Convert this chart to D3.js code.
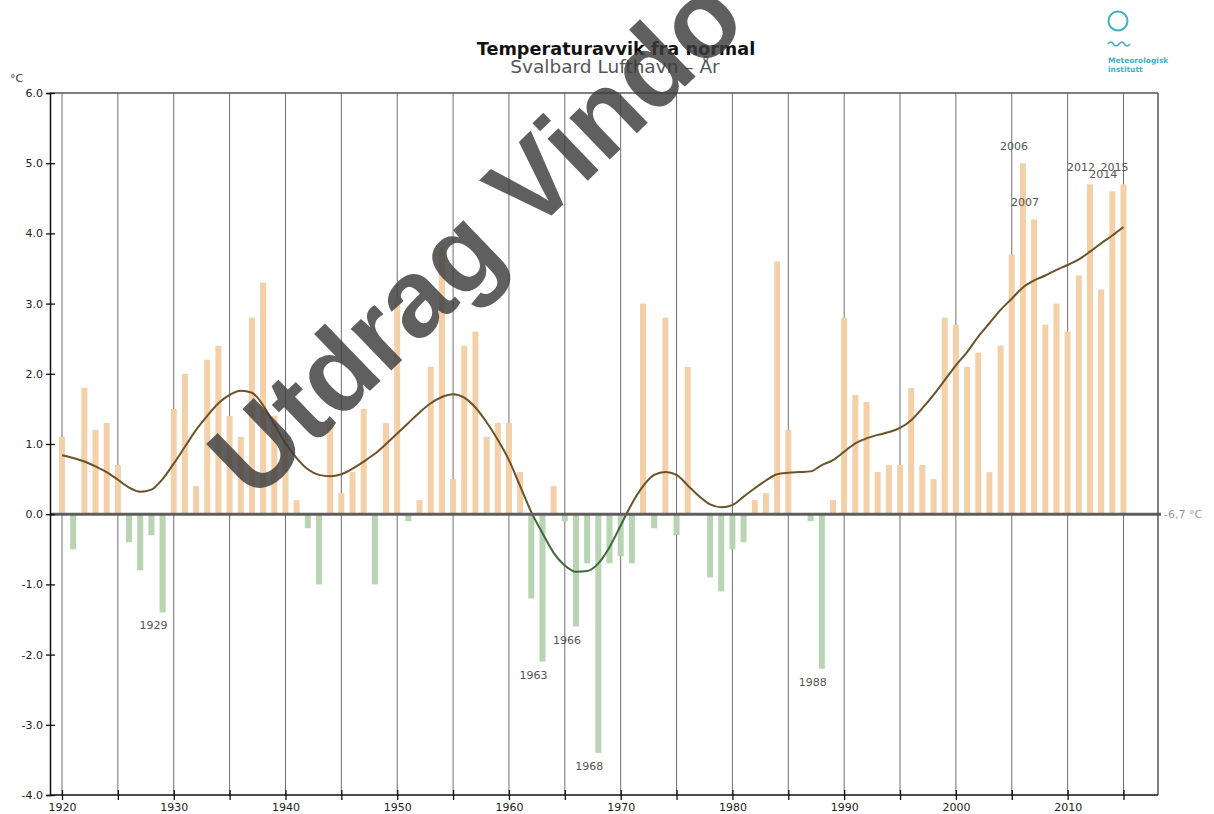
<!DOCTYPE html>
<html><head><meta charset="utf-8">
<script src="https://cdn.jsdelivr.net/npm/d3@7"></script>
<style>
html,body{margin:0;padding:0;background:#fff;}
svg{display:block;}
</style></head>
<body>
<svg id="chart" width="1214" height="814"></svg>
<script>
// ---- data ----
const years = d3.range(1920, 2016);
const anomalies = [
  1.1, -0.5, 1.8, 1.2, 1.3, 0.7, -0.4, -0.8, -0.3, -1.4,   // 1920-1929
  1.5, 2.0, 0.4, 2.2, 2.4, 1.4, 1.1, 2.8, 3.3, 1.4,        // 1930-1939
  1.1, 0.2, -0.2, -1.0, 1.3, 0.3, 0.6, 1.5, -1.0, 1.3,     // 1940-1949
  3.1, -0.1, 0.2, 2.1, 3.8, 0.5, 2.4, 2.6, 1.1, 1.3,       // 1950-1959
  1.3, 0.6, -1.2, -2.1, 0.4, -0.1, -1.6, -0.7, -3.4, -0.7, // 1960-1969
  -0.6, -0.7, 3.0, -0.2, 2.8, -0.3, 2.1, 0.0, -0.9, -1.1,  // 1970-1979
  -0.5, -0.4, 0.2, 0.3, 3.6, 1.2, 0.0, -0.1, -2.2, 0.2,    // 1980-1989
  2.8, 1.7, 1.6, 0.6, 0.7, 0.7, 1.8, 0.7, 0.5, 2.8,        // 1990-1999
  2.7, 2.1, 2.3, 0.6, 2.4, 3.7, 5.0, 4.2, 2.7, 3.0,        // 2000-2009
  2.6, 3.4, 4.7, 3.2, 4.6, 4.7                             // 2010-2015
];
const smoothed = [
  0.84, 0.80, 0.75, 0.68, 0.60, 0.49, 0.38, 0.32, 0.35, 0.50,
  0.72, 0.96, 1.20, 1.40, 1.58, 1.70, 1.76, 1.73, 1.55, 1.28,
  1.01, 0.80, 0.64, 0.56, 0.54, 0.57, 0.65, 0.75, 0.86, 1.00,
  1.15, 1.30, 1.45, 1.58, 1.67, 1.71, 1.66, 1.52, 1.31, 1.06,
  0.77, 0.40, 0.03, -0.27, -0.55, -0.73, -0.82, -0.81, -0.70, -0.47,
  -0.16, 0.15, 0.40, 0.56, 0.60, 0.56, 0.41, 0.26, 0.14, 0.10,
  0.13, 0.25, 0.37, 0.48, 0.57, 0.59, 0.60, 0.61, 0.70, 0.77,
  0.89, 1.01, 1.08, 1.13, 1.17, 1.23, 1.34, 1.51, 1.70, 1.91,
  2.12, 2.31, 2.53, 2.72, 2.91, 3.07, 3.23, 3.33, 3.40, 3.48,
  3.55, 3.63, 3.74, 3.86, 3.97, 4.09
];
const labelledYears = [1929, 1963, 1966, 1968, 1988, 2006, 2007, 2012, 2014, 2015];
const yTicks = [-4, -3, -2, -1, 0, 1, 2, 3, 4, 5, 6];
const gridYears = d3.range(1920, 2016, 5);
const titleText = "Temperaturavvik fra normal";
const subtitleText = "Svalbard Lufthavn – År";
const normalText = "-6,7 °C";
const unitText = "°C";

(function draw() {
  const svg = d3.select("#chart");
  const L = 50, R = 1158, T = 93, B = 795;
  const x = d3.scaleLinear().domain([1920, 2015]).range([62, 1123.5]);
  const y = d3.scaleLinear().domain([-4, 6]).range([B, T]);
  const barW = 6;
  const font = "DejaVu Sans, sans-serif";

  // vertical grid lines
  svg.append("g").selectAll("line").data(gridYears).join("line")
    .attr("x1", d => x(d)).attr("x2", d => x(d))
    .attr("y1", T).attr("y2", B)
    .attr("stroke", "#6f6f6f").attr("stroke-width", 1);

  // bars
  const data = years.map((yr, i) => ({yr, v: anomalies[i]}));
  svg.append("g").selectAll("rect").data(data.filter(d => d.v !== 0)).join("rect")
    .attr("x", d => x(d.yr) - barW / 2)
    .attr("width", barW)
    .attr("y", d => d.v > 0 ? y(d.v) : y(0))
    .attr("height", d => Math.abs(y(d.v) - y(0)))
    .attr("fill", d => d.v > 0 ? "#f4d0a9" : "#b8d4b2");

  // smoothed curve, brown above zero and green below
  const defs = svg.append("defs");
  defs.append("clipPath").attr("id", "above").append("rect")
    .attr("x", L).attr("y", T).attr("width", R - L).attr("height", y(0) - T);
  defs.append("clipPath").attr("id", "below").append("rect")
    .attr("x", L).attr("y", y(0)).attr("width", R - L).attr("height", B - y(0));
  const line = d3.line().x((d, i) => x(years[i])).y(d => y(d)).curve(d3.curveMonotoneX);
  svg.append("path").datum(smoothed).attr("d", line).attr("fill", "none")
    .attr("stroke", "#6b5228").attr("stroke-width", 2).attr("clip-path", "url(#above)");
  svg.append("path").datum(smoothed).attr("d", line).attr("fill", "none")
    .attr("stroke", "#3f6a38").attr("stroke-width", 2).attr("clip-path", "url(#below)");

  // zero line
  svg.append("line").attr("x1", L).attr("x2", R + 3).attr("y1", y(0)).attr("y2", y(0))
    .attr("stroke", "#5e5e5e").attr("stroke-width", 3);
  svg.append("text").attr("x", R + 6).attr("y", y(0) + 4)
    .attr("font-family", font).attr("font-size", 11).attr("fill", "#999").text(normalText);

  // frame: top and right
  svg.append("line").attr("x1", L).attr("x2", R).attr("y1", T).attr("y2", T)
    .attr("stroke", "#555").attr("stroke-width", 1.5);
  svg.append("line").attr("x1", R).attr("x2", R).attr("y1", T).attr("y2", B)
    .attr("stroke", "#555").attr("stroke-width", 1.5);

  // y axis
  svg.append("g").attr("transform", `translate(${L},0)`)
    .call(d3.axisLeft(y).tickValues(yTicks).tickSize(4).tickPadding(3).tickFormat(d => d.toFixed(1)));
  svg.append("g").attr("transform", `translate(${L},0)`)
    .call(d3.axisRight(y).tickValues(yTicks).tickSize(5).tickFormat(""))
    .select(".domain").remove();
  // x axis
  const xAxis = svg.append("g").attr("transform", `translate(0,${B})`)
    .call(d3.axisBottom(x).tickValues(gridYears).tickSize(5).tickPadding(3).tickFormat(d => d % 10 === 0 ? d : ""));
  svg.append("g").attr("transform", `translate(0,${B})`)
    .call(d3.axisTop(x).tickValues(gridYears).tickSize(5).tickFormat(""))
    .select(".domain").remove();
  svg.selectAll(".domain").attr("stroke", "#111").attr("stroke-width", 1.5);
  svg.selectAll(".tick line").attr("stroke", "#111").attr("stroke-width", 1.3);
  svg.selectAll(".tick text").attr("font-family", font).attr("font-size", 11).attr("fill", "#222");
  xAxis.select(".domain").attr("d", `M${L},0H${R}`);

  // unit
  svg.append("text").attr("x", 10).attr("y", 82).attr("font-family", font)
    .attr("font-size", 11).attr("fill", "#333").text(unitText);

  // year labels for extremes
  svg.append("g").selectAll("text").data(labelledYears).join("text")
    .attr("x", d => x(d) + 5)
    .attr("y", d => { const v = anomalies[d - 1920]; return v > 0 ? y(v) - 13 : y(v) + 17; })
    .attr("text-anchor", "end")
    .attr("font-family", font).attr("font-size", 11).attr("fill", "#555")
    .text(d => d);

  // titles
  svg.append("text").attr("x", 616).attr("y", 55).attr("text-anchor", "middle")
    .attr("font-family", font).attr("font-weight", "bold").attr("font-size", 17.7)
    .attr("fill", "#111").text(titleText);
  svg.append("text").attr("x", 615).attr("y", 73).attr("text-anchor", "middle")
    .attr("font-family", font).attr("font-size", 18.5)
    .attr("fill", "#555").text(subtitleText);

  // logo
  const logo = svg.append("g");
  logo.append("circle").attr("cx", 1118).attr("cy", 21).attr("r", 9.5)
    .attr("fill", "none").attr("stroke", "#44b0c4").attr("stroke-width", 2);
  logo.append("path").attr("d", "M1108,44 q3,-4 5.5,0 t5.5,0 t5.5,0 t5.5,0")
    .attr("fill", "none").attr("stroke", "#44b0c4").attr("stroke-width", 1.6);
  logo.append("text").attr("x", 1108).attr("y", 63).attr("font-family", font)
    .attr("font-size", 7.5).attr("font-weight", "bold").attr("fill", "#44b0c4").text("Meteorologisk");
  logo.append("text").attr("x", 1108).attr("y", 71.5).attr("font-family", font)
    .attr("font-size", 7.5).attr("font-weight", "bold").attr("fill", "#44b0c4").text("institutt");

  // watermark
  svg.append("text").attr("transform", "translate(254,503) rotate(-44)")
    .attr("font-family", "Liberation Sans, Arial, sans-serif").attr("font-weight", "bold")
    .attr("font-size", 110).attr("fill", "#3c3c3c").attr("fill-opacity", 0.82)
    .text("Utdrag Vindo");
})();
</script>
</body></html>
